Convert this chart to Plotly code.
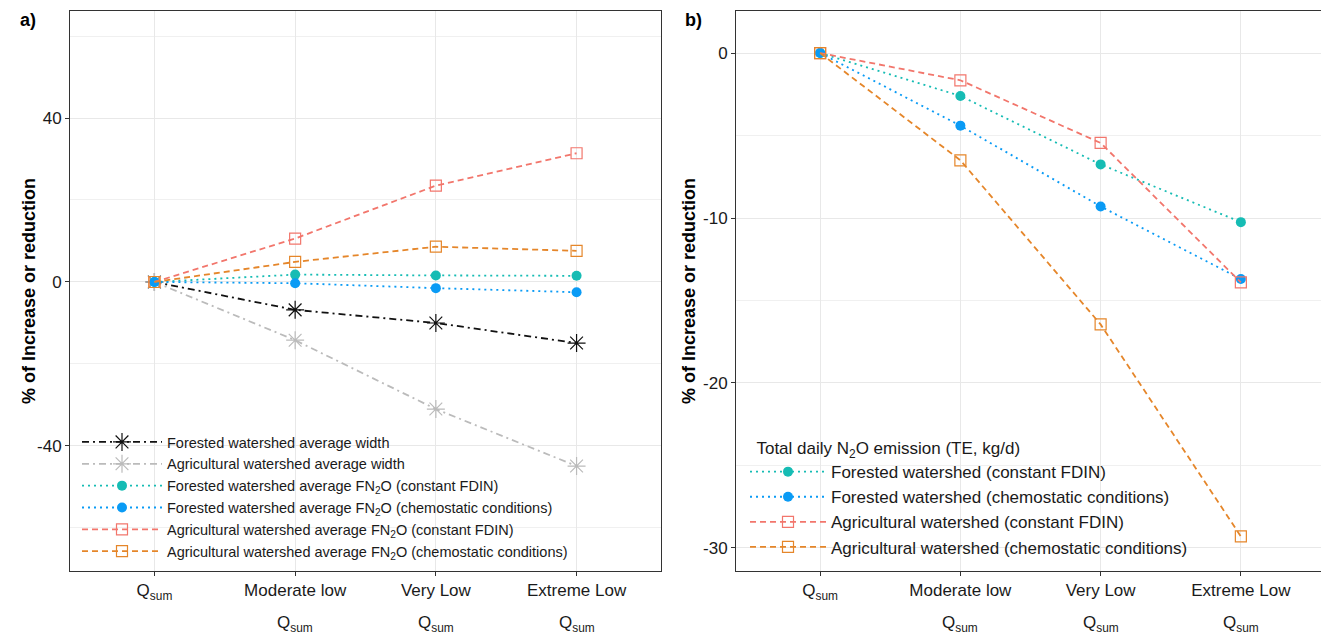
import plotly.graph_objects as go

# ---------------- data ----------------
categories = ["Q<sub>sum</sub>", "Moderate low", "Very Low", "Extreme Low"]
category_line2 = ["", "Q<sub>sum</sub>", "Q<sub>sum</sub>", "Q<sub>sum</sub>"]

a_ytick_vals = [-40, 0, 40]
a_ytick_text = ["-40", "0", "40"]
b_ytick_vals = [-30, -20, -10, 0]
b_ytick_text = ["-30", "-20", "-10", "0"]

# panel a) % change in width and FN2O
a_forest_width = [0, -6.8, -10.0, -14.9]
a_agri_width = [0, -14.2, -31.0, -44.9]
a_forest_fn2o_const = [0, 1.8, 1.6, 1.5]
a_forest_fn2o_chemo = [0, -0.3, -1.5, -2.5]
a_agri_fn2o_const = [0, 10.6, 23.5, 31.4]
a_agri_fn2o_chemo = [0, 4.9, 8.6, 7.6]

# panel b) % change in total daily N2O emission
b_forest_const = [0, -2.6, -6.75, -10.25]
b_forest_chemo = [0, -4.4, -9.3, -13.7]
b_agri_const = [0, -1.65, -5.45, -13.9]
b_agri_chemo = [0, -6.5, -16.45, -29.3]

a_names = ["Forested watershed average width",
           "Agricultural watershed average width",
           "Forested watershed average FN<sub>2</sub>O (constant FDIN)",
           "Forested watershed average FN<sub>2</sub>O (chemostatic conditions)",
           "Agricultural watershed average FN<sub>2</sub>O (constant FDIN)",
           "Agricultural watershed average FN<sub>2</sub>O (chemostatic conditions)"]
b_names = ["Forested watershed (constant FDIN)",
           "Forested watershed (chemostatic conditions)",
           "Agricultural watershed (constant FDIN)",
           "Agricultural watershed (chemostatic conditions)"]
b_legend_title = "Total daily N<sub>2</sub>O emission (TE, kg/d)"
y_title = "% of Increase or reduction"

# ---------------- styles ----------------
BLACK = "#111111"
GRAY = "#BBBBBB"
TEAL = "#16BCB4"
BLUE = "#0A9BF5"
SALMON = "#F2766C"
ORANGE = "#E5862A"

DOT = "2px,4px"
DASH = "6px,4px"
DASHDOT = "7px,4px,2px,4px"

fig = go.Figure()

def add(y, name, color, dash, symbol, size, filled, xa, ya, legend, lw=1.8):
    marker = dict(symbol=symbol, size=size, color=color,
                  line=dict(color=color, width=1.2 if not filled else 0))
    fig.add_trace(go.Scatter(
        x=categories, y=y, name=name, mode="lines+markers",
        line=dict(color=color, width=lw, dash=dash),
        marker=marker, xaxis=xa, yaxis=ya, legend=legend))

# panel a
add(a_forest_width, a_names[0], BLACK, DASHDOT, "asterisk-open", 15, False, "x", "y", "legend")
add(a_agri_width, a_names[1], GRAY, DASHDOT, "asterisk-open", 15, False, "x", "y", "legend")
add(a_forest_fn2o_const, a_names[2], TEAL, DOT, "circle", 10, True, "x", "y", "legend")
add(a_forest_fn2o_chemo, a_names[3], BLUE, DOT, "circle", 10, True, "x", "y", "legend")
add(a_agri_fn2o_const, a_names[4], SALMON, DASH, "square-open", 11, False, "x", "y", "legend")
add(a_agri_fn2o_chemo, a_names[5], ORANGE, DASH, "square-open", 11, False, "x", "y", "legend")

# panel b
add(b_forest_const, b_names[0], TEAL, DOT, "circle", 10, True, "x2", "y2", "legend2")
add(b_forest_chemo, b_names[1], BLUE, DOT, "circle", 10, True, "x2", "y2", "legend2")
add(b_agri_const, b_names[2], SALMON, DASH, "square-open", 11, False, "x2", "y2", "legend2")
add(b_agri_chemo, b_names[3], ORANGE, DASH, "square-open", 11, False, "x2", "y2", "legend2")

FONT = "Liberation Sans, Arial, sans-serif"
GRID = "#E8E8E8"
TXT = "#1a1a1a"
axis_common = dict(showline=True, mirror=True, linecolor="#333333", linewidth=1,
                   ticks="outside", ticklen=4, tickcolor="#333333", automargin=False,
                   tickfont=dict(size=17, color=TXT, family=FONT),
                   showgrid=True, gridcolor=GRID, gridwidth=1, zeroline=False)

# page body has an 8px default margin: work in screen pixels, convert to figure
OFF = 8
W, H = 1329 - OFF, 636 - OFF
PL, PR, PT, PB = 70, 1325, 11, 571          # screen pixel plot box
L, R, T = PL - OFF, (W + OFF) - PR, PT - OFF
B = H - (PB - OFF)
pw = W - L - R
ph = H - T - B
def px(x):
    return (x - PL) / pw
def py(y):
    return (PB - y) / ph

annotations = [
    dict(text="<b>a)</b>", x=px(18), y=py(20), xref="paper", yref="paper",
         xanchor="left", yanchor="middle", showarrow=False,
         font=dict(size=18, color="black", family=FONT)),
    dict(text="<b>b)</b>", x=px(683), y=py(20), xref="paper", yref="paper",
         xanchor="left", yanchor="middle", showarrow=False,
         font=dict(size=18, color="black", family=FONT)),
    dict(text="<b>" + y_title + "</b>", x=px(29), y=py(291),
         xref="paper", yref="paper", xanchor="center", yanchor="middle",
         textangle=-90, showarrow=False, font=dict(size=18, color="black", family=FONT)),
    dict(text="<b>" + y_title + "</b>", x=px(689), y=py(291),
         xref="paper", yref="paper", xanchor="center", yanchor="middle",
         textangle=-90, showarrow=False, font=dict(size=18, color="black", family=FONT)),
]
# second line of the x tick labels
for xa in ["x", "x2"]:
    for cat, line2 in zip(categories, category_line2):
        if line2:
            annotations.append(dict(text=line2, x=cat, xref=xa, y=py(624), yref="paper",
                                    xanchor="center", yanchor="middle", showarrow=False,
                                    font=dict(size=17, color=TXT, family=FONT)))

fig.update_layout(
    width=W, height=H, autosize=False,
    margin=dict(l=L, r=R, t=T, b=B, pad=0),
    paper_bgcolor="white", plot_bgcolor="white",
    font=dict(family=FONT, color=TXT),
    showlegend=True,
    xaxis=dict(domain=[0, px(661)], type="category", range=[-0.6, 3.6], **axis_common),
    yaxis=dict(range=[-70.5, 66.1], tickvals=a_ytick_vals, ticktext=a_ytick_text,
               minor=dict(dtick=20, tick0=0, showgrid=True, gridcolor="#F0F0F0", gridwidth=1, ticks=""),
               **axis_common),
    xaxis2=dict(domain=[px(736), 1], type="category", range=[-0.6, 3.6], anchor="y2", **axis_common),
    yaxis2=dict(range=[-31.4, 2.55], tickvals=b_ytick_vals, ticktext=b_ytick_text, anchor="x2",
                minor=dict(dtick=5, tick0=0, showgrid=True, gridcolor="#F0F0F0", gridwidth=1, ticks=""),
                **axis_common),
    legend=dict(x=px(77), y=py(497), xanchor="left", yanchor="middle",
                bgcolor="rgba(0,0,0,0)", itemwidth=80, tracegroupgap=0,
                font=dict(size=14.5, color=TXT, family=FONT)),
    legend2=dict(x=px(745), y=py(565), xanchor="left", yanchor="bottom",
                 bgcolor="rgba(0,0,0,0)", itemwidth=76,
                 title=dict(text="\u00a0\u00a0" + b_legend_title,
                            font=dict(size=17, color=TXT, family=FONT)),
                 font=dict(size=17, color=TXT, family=FONT)),
    annotations=annotations,
)

fig.write_html("out.html")
